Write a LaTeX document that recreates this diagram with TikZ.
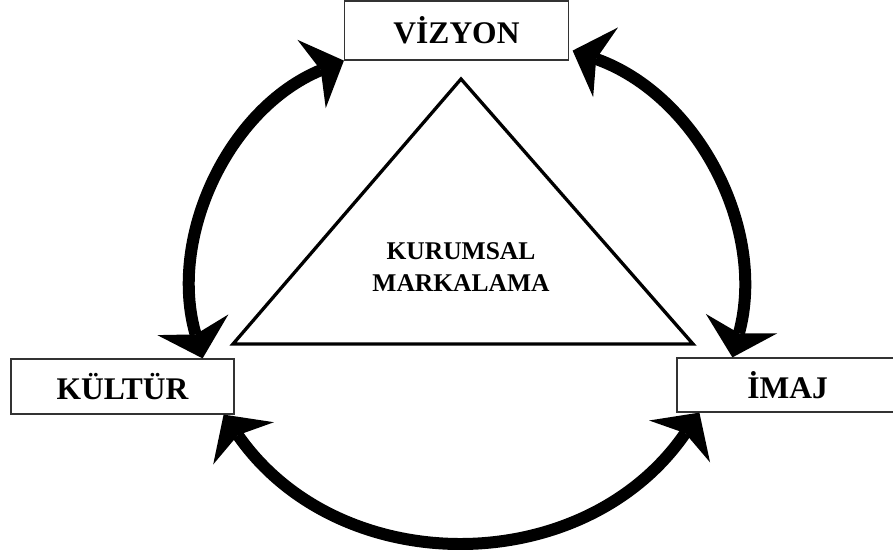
\documentclass[tikz,border=0pt]{standalone}
\usepackage{fontspec}
\setmainfont{Liberation Serif}
\usetikzlibrary{arrows.meta}
\begin{document}
\begin{tikzpicture}[x=1pt,y=1pt,
  labelbox/.style={draw=black!80, line width=1.2pt, fill=white, inner sep=0pt,
    font=\fontsize{31.5}{36}\selectfont\bfseries},
  cyclearrow/.style={line width=12pt, {Stealth[length=35pt,width=74pt,inset=10pt,line width=0pt]}-{Stealth[length=35pt,width=74pt,inset=10pt,line width=0pt]}},
  brandtri/.style={line width=3.3pt, line join=miter},
]
\useasboundingbox (0,0) rectangle (893,549);

% the three pillars
\node[labelbox, minimum width=224pt, minimum height=59pt] (vizyon) at (456.5,518.5) {VİZYON};
\node[labelbox, minimum width=223pt, minimum height=55pt] (kultur) at (122.5,162.5) {KÜLTÜR};
\node[labelbox, minimum width=221pt, minimum height=54pt] (imaj)   at (787.5,164)   {İMAJ};

% central triangle with its caption
\draw[brandtri] (461,470) -- (233,205) -- (693,205) -- cycle;
\node[align=center, inner sep=0pt, font=\fontsize{25.5}{32}\selectfont\bfseries] (marka) at (461,281.5)
  {KURUMSAL\\MARKALAMA};

% end points of the curved arrows on the boxes
\coordinate (vzR) at ([shift={(3.5pt,10pt)}]vizyon.south east);
\coordinate (ktT) at ([xshift=-32pt]kultur.north east);
\coordinate (ktB) at ([xshift=-11pt]kultur.south east);
\coordinate (imT) at ([xshift=56pt]imaj.north west);
\coordinate (imB) at ([xshift=23pt]imaj.south west);

% two-way arrows linking the pillars
\draw[cyclearrow] (vizyon.south west) to[out=202.5, in=106.2, looseness=0.975] (ktT);
\draw[cyclearrow] (vzR) to[out=-19.6, in=74.8, looseness=0.98] (imT);
\draw[cyclearrow] (ktB) to[out=-55.2, in=235.5, looseness=1.09] (imB);
\end{tikzpicture}
\end{document}
